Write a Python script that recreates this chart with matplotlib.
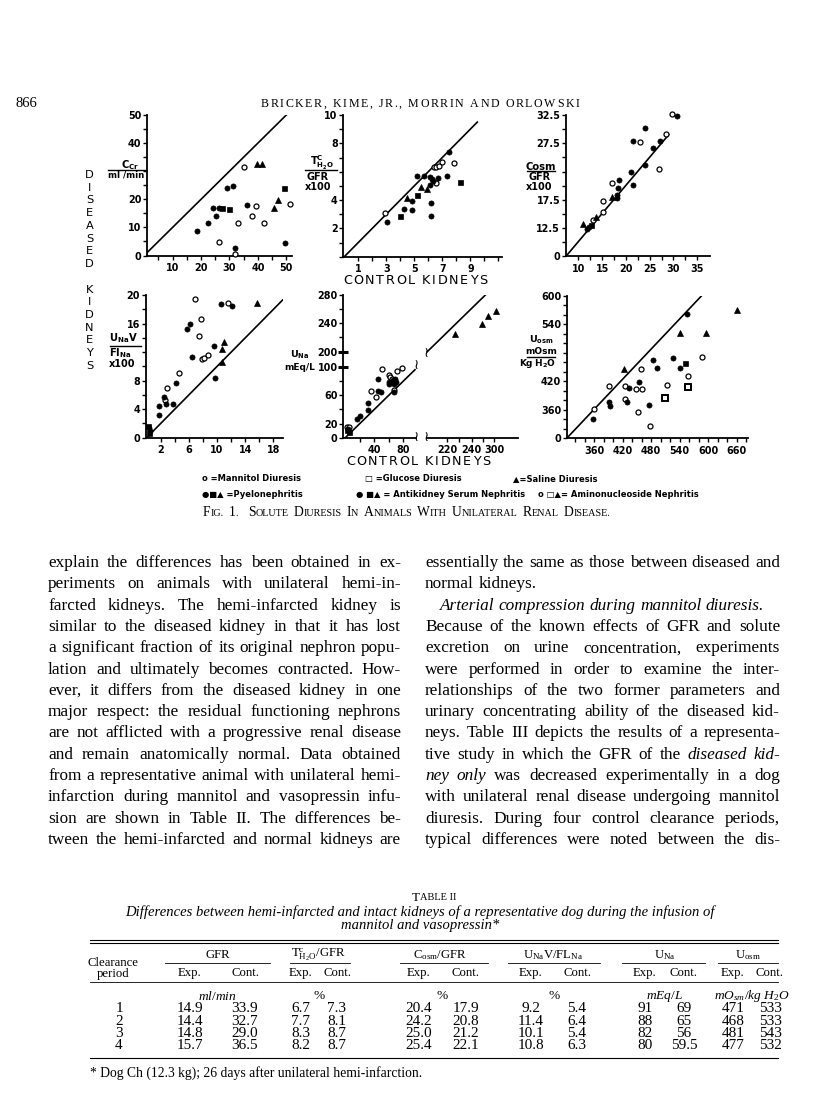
import numpy as np
import matplotlib
matplotlib.use('Agg')
import matplotlib.pyplot as plt
from matplotlib.lines import Line2D
from matplotlib.font_manager import FontProperties

plt.rcParams['mathtext.fontset'] = 'custom'
plt.rcParams['mathtext.rm'] = 'Liberation Serif'
plt.rcParams['mathtext.it'] = 'Liberation Serif:italic'
plt.rcParams['mathtext.bf'] = 'DejaVu Sans:bold'

W, H = 816, 1109
SERIF = 'Liberation Serif'
SANS = 'DejaVu Sans'

# ---------------- Fig. 1 data: (control, diseased) ----------------
# panel 1  C_Cr ml/min
p1_open = [(26.3, 4.8), (33, 11.5), (35, 31.4), (39.4, 17.6), (38.1, 14), (42, 11.5), (32.1, 0.6), (51.3, 18.2)]
p1_dot = [(18.5, 8.6), (22.4, 11.5), (24.2, 16.9), (25.1, 13.9), (26.4, 16.9), (29, 24), (31.2, 24.9),
          (36, 18.1), (32.1, 2.6), (49.6, 4.6)]
p1_sq = [(27.4, 16.9), (29.9, 16.4), (49.2, 23.9)]
p1_tri = [(39.6, 32.4), (41.4, 32.4), (45.5, 16.9), (47.2, 19.6)]

# panel 2  TcH2O/GFR x100
p2_open = [(2.9, 3.07), (6.52, 5.22), (6.4, 6.33), (6.57, 6.33), (6.76, 6.38), (7.0, 6.67), (7.81, 6.6)]
p2_dot = [(3.07, 2.48), (4.29, 3.36), (4.81, 3.31), (4.81, 3.95), (5.17, 5.67), (5.71, 5.67), (6.14, 5.62),
          (6.26, 5.46), (6.36, 5.32), (6.14, 5.08), (6.69, 5.58), (6.21, 3.81), (6.17, 2.84), (7.45, 7.42),
          (7.3, 5.67)]
p2_sq = [(4.0, 2.86), (5.17, 4.37), (8.24, 5.3)]
p2_tri = [(4.5, 4.16), (5.48, 4.89), (5.93, 4.8)]

# panel 3  Cosm/GFR x100
p3_open = [(13.15, 14.0), (15.25, 15.35), (15.1, 17.3), (17.1, 20.4), (22.96, 27.7), (28.4, 29.1),
           (26.9, 23.0), (29.7, 32.6)]
p3_dot = [(11.9, 12.3), (12.3, 12.7), (18.1, 18.4), (18.2, 17.9), (18.5, 21.0), (18.4, 19.5), (21.0, 22.5),
          (21.4, 20.1), (21.55, 27.9), (24.1, 30.2), (24.0, 23.6), (25.8, 26.6), (27.2, 27.9), (30.7, 32.4)]
p3_sq = [(12.6, 13.0)]
p3_tri = [(11.05, 13.3), (13.7, 14.5), (17.1, 18.0)]

# panel 4  UNaV/FLNa x100
p4_open = [(2.66, 5.3), (2.9, 7.0), (4.55, 9.07), (6.8, 19.5), (7.76, 16.7), (7.4, 14.3), (7.8, 11.0),
           (8.1, 11.2), (8.7, 11.6), (11.6, 18.9)]
p4_dot = [(1.7, 3.2), (1.76, 4.4), (2.47, 5.65), (2.7, 4.7), (3.75, 4.76), (4.2, 7.66), (5.7, 15.3),
          (6.15, 15.9), (6.4, 11.3), (9.6, 12.9), (9.65, 8.3), (10.6, 18.8), (12.1, 18.5), (0.4, 1.3), (0.5, 1.0)]
p4_sq = [(0.25, 1.7), (0.35, 0.6)]
p4_tri = [(10.7, 12.4), (10.98, 13.4), (10.7, 10.6), (15.6, 18.9)]

# panel 5  UNa mEq/L (broken axes)
p5_open = [(1.8, 15.6), (5.5, 15.6), (35.4, 65.5), (42.3, 57.9), (50.1, 97.1), (60.7, 88.1), (61.6, 86.2),
           (64.4, 82.9), (67.6, 67.3), (70.8, 93.8), (78.2, 98.5)]
p5_dot = [(15.6, 26.4), (20.2, 31.1), (30.8, 39.1), (30.8, 48.5), (45.1, 66.4), (49.7, 64.5), (45.1, 82.9),
          (59.8, 79.1), (59.8, 75.4), (66.2, 81.5), (67.6, 76.3), (67.6, 64.1), (69.9, 78.6), (69, 82.9),
          (3.7, 12.7)]
p5_sq = [(2.8, 10.9), (5.5, 8.5)]
p5_tri = [(238, 225), (276, 239), (284, 251), (295, 258)]

# panel 6  Uosm mOsm/kg H2O
p6_open = [(360.3, 361.8), (392.5, 410.9), (426.2, 410.2), (425.5, 383.5), (448.7, 403.9), (452.9, 354.7),
           (458.5, 446), (460.6, 403.2), (477.5, 325.3), (513.9, 413), (557.5, 431.9), (586.9, 471.2)]
p6_dot = [(357.5, 340.7), (391.2, 376.5), (393.3, 367.4), (429, 375.8), (433.3, 406), (455.7, 419.3),
          (476, 370.9), (485.2, 464.2), (492.2, 448.8), (526.6, 469.8), (541.4, 447.4), (556.1, 561.8)]
p6_sq = [(551.9, 458.6)]
p6_osq = [(509, 384.2), (558.2, 408.1)]
p6_tri = [(423.4, 445.3), (541.4, 521.1), (595.3, 521.8), (660.6, 570)]

legend_rows = [["o =Mannitol Diuresis", "\u25a1 =Glucose Diuresis", "\u25b2=Saline Diuresis"],
               ["\u25cf\u25a0\u25b2 =Pyelonephritis", "\u25cf \u25a0\u25b2 = Antikidney Serum Nephritis",
                "o \u25a1\u25b2= Aminonucleoside Nephritis"]]

# ---------------- text ----------------
left_col = [
    "explain the differences has been obtained in ex-",
    "periments on animals with unilateral hemi-in-",
    "farcted kidneys. The hemi-infarcted kidney is",
    "similar to the diseased kidney in that it has lost",
    "a significant fraction of its original nephron popu-",
    "lation and ultimately becomes contracted. How-",
    "ever, it differs from the diseased kidney in one",
    "major respect: the residual functioning nephrons",
    "are not afflicted with a progressive renal disease",
    "and remain anatomically normal. Data obtained",
    "from a representative animal with unilateral hemi-",
    "infarction during mannitol and vasopressin infu-",
    "sion are shown in Table II. The differences be-",
    "tween the hemi-infarcted and normal kidneys are",
]
right_col = [
    "essentially the same as those between diseased and",
    "normal kidneys.",
    "*Arterial* *compression* *during* *mannitol* *diuresis.*",
    "Because of the known effects of GFR and solute",
    "excretion on urine concentration, experiments",
    "were performed in order to examine the inter-",
    "relationships of the two former parameters and",
    "urinary concentrating ability of the diseased kid-",
    "neys. Table III depicts the results of a representa-",
    "tive study in which the GFR of the *diseased* *kid-*",
    "*ney* *only* was decreased experimentally in a dog",
    "with unilateral renal disease undergoing mannitol",
    "diuresis. During four control clearance periods,",
    "typical differences were noted between the dis-",
]

# ---------------- Table II ----------------
periods = ['1', '2', '3', '4']
gfr_exp = ['14.9', '14.4', '14.8', '15.7']
gfr_cont = ['33.9', '32.7', '29.0', '36.5']
tch2o_exp = ['6.7', '7.7', '8.3', '8.2']
tch2o_cont = ['7.3', '8.1', '8.7', '8.7']
cosm_exp = ['20.4', '24.2', '25.0', '25.4']
cosm_cont = ['17.9', '20.8', '21.2', '22.1']
fena_exp = ['9.2', '11.4', '10.1', '10.8']
fena_cont = ['5.4', '6.4', '5.4', '6.3']
una_exp = ['91', '88', '82', '80']
una_cont = ['69', '65', '56', '59.5']
uosm_exp = ['471', '468', '481', '477']
uosm_cont = ['533', '533', '543', '532']
groups = ['GFR', r'T$^{\mathrm{c}}_{\mathrm{H_2O}}$/GFR', r'C$_{\mathrm{osm}}$/GFR',
          r'U$_{\mathrm{Na}}$V/FL$_{\mathrm{Na}}$', r'U$_{\mathrm{Na}}$', r'U$_{\mathrm{osm}}$']
units = [r'$\mathit{ml/min}$', '%', '%', '%', r'$\mathit{mEq/L}$', r'$\mathit{mO_{sm}/kg\ H_2O}$']

fig = plt.figure(figsize=(W / 100, H / 100), dpi=100)
rend = fig.canvas.get_renderer()


def fx(x):
    return x / W


def fy(y):
    return 1 - y / H


def tw(s, size, family=SERIF, style='normal', weight='normal'):
    fp = FontProperties(family=family, size=size, style=style, weight=weight)
    return rend.get_text_width_height_descent(s, fp, ismath=False)[0]


def adv(s, size, **kw):
    return tw('H' + s + 'H', size, **kw) - tw('HH', size, **kw)


def put(x, y, s, **kw):
    kw.setdefault('family', SERIF)
    return fig.text(fx(x), fy(y), s, **kw)


def hline(x0, x1, y, lw=0.8):
    fig.add_artist(Line2D([fx(x0), fx(x1)], [fy(y), fy(y)], transform=fig.transFigure, color='k', lw=lw))


def tracked(x, y, s, size, track, ha='left', **kw):
    ws = [adv(c, size, **kw) for c in s]
    total = sum(ws) + track * (len(s) - 1)
    xx = x - total / 2 if ha == 'center' else x
    for c, w in zip(s, ws):
        if c != ' ':
            put(xx, y, c, fontsize=size, va='baseline', **kw)
        xx += w + track


def justify(x0, x1, y, line, size, last=False, indent=0):
    items = []
    for w in line.split(' '):
        st = 'italic' if w.startswith('*') else 'normal'
        items.append((w.strip('*'), st))
    ws = [adv(w, size, style=st) for w, st in items]
    if last:
        gap = adv(' ', size)
    else:
        gap = max((x1 - x0 - indent - sum(ws)) / (len(items) - 1), 2.5)
    xx = x0 + indent
    for (w, st), wd in zip(items, ws):
        put(xx, y, w, fontsize=size, style=st, va='baseline')
        xx += wd + gap


# ---------------- running head ----------------
put(15, 107, '866', fontsize=10.5, va='baseline')
tracked(420, 107, 'BRICKER, KIME, JR., MORRIN AND ORLOWSKI', 8.6, 1.6, ha='center')

# ---------------- panels ----------------
STY = {
    'open': dict(marker='o', mfc='white', mec='k', mew=0.9, ms=3.6),
    'dot': dict(marker='o', mfc='k', mec='k', mew=0.5, ms=3.7),
    'sq': dict(marker='s', mfc='k', mec='k', mew=0.5, ms=3.6),
    'osq': dict(marker='s', mfc='white', mec='k', mew=1.4, ms=4.0),
    'tri': dict(marker='^', mfc='k', mec='k', mew=0.5, ms=4.4),
}


def pts(ax, data, kind, tx=None, ty=None):
    x, y = np.array(data, dtype=float).T
    if tx is not None:
        x = tx(x)
        y = ty(y)
    ax.plot(x, y, ls='none', clip_on=False, zorder=3, **STY[kind])


def panel(l, t, r, b, xlim, ylim, xt, xtl, yt, ytl):
    ax = fig.add_axes([l / W, 1 - b / H, (r - l) / W, (b - t) / H])
    ax.set_xlim(xlim)
    ax.set_ylim(ylim)
    ax.patch.set_alpha(0)
    for s in ('top', 'right'):
        ax.spines[s].set_visible(False)
    for s in ('left', 'bottom'):
        ax.spines[s].set_linewidth(1.3)
    ax.set_xticks(xt)
    ax.set_xticklabels(xtl)
    ax.set_yticks(yt)
    ax.set_yticklabels(ytl)
    ax.tick_params(direction='out', length=3.0, width=1.0, labelsize=6.9, pad=1.0)
    ax.tick_params(axis='x', pad=2.4)
    for lab in ax.get_xticklabels() + ax.get_yticklabels():
        lab.set_fontweight('bold')
        lab.set_family(SANS)
    return ax


def lab(v, keep):
    return [('%g' % x if x in keep else '') for x in v]


def sans(x, y, s, size=6.8, ha='center'):
    fig.text(fx(x), fy(y), s, family=SANS, weight='bold', fontsize=size, ha=ha, va='center')


def bar(x0, x1, y):
    hline(x0, x1, y, lw=1.0)


# panel 1
xt = np.arange(5, 55, 5)
yt = np.arange(0, 55, 5)
ax1 = panel(147, 115, 292, 255.5, (1, 52), (0, 50), xt, lab(xt, [10, 20, 30, 40, 50]),
            yt, lab(yt, [0, 10, 20, 40, 50]))
ax1.plot([0, 51], [0, 51], color='k', lw=1.2)
for d, k in ((p1_open, 'open'), (p1_dot, 'dot'), (p1_sq, 'sq'), (p1_tri, 'tri')):
    pts(ax1, d, k)
sans(130, 165, r'$\mathbf{C_{Cr}}$', 7.2)
bar(108, 145, 170)
sans(126.5, 175, 'ml /min', 6.2)

# panel 2
xt = np.arange(1, 12, 1)
yt = np.arange(0, 11, 1)
ax2 = panel(343.3, 115, 501.7, 256.7, (-0.07, 11.24), (0, 10), xt, lab(xt, [1, 3, 5, 7, 9]),
            yt, lab(yt, [2, 4, 8, 10]))
ax2.plot([0, 9.5], [0, 9.5], color='k', lw=1.2)
for d, k in ((p2_open, 'open'), (p2_dot, 'dot'), (p2_sq, 'sq'), (p2_tri, 'tri')):
    pts(ax2, d, k)
sans(322, 163, r'$\mathbf{T^{C}_{H_2O}}$', 7.2)
bar(305, 337, 170)
sans(318, 177, 'GFR', 7.0)
sans(318, 187.5, 'x100', 7.0)
tracked(415, 284, 'CONTROL KIDNEYS', 9.2, 1.6, ha='center', family=SANS)

# panel 3
xt = np.arange(10, 37.5, 2.5)
yt = np.arange(7.5, 35, 2.5)
ax3 = panel(565.7, 115, 710, 256.3, (7.35, 37.7), (7.55, 32.5), xt, lab(xt, [10, 15, 20, 25, 30, 35]),
            yt, ['0' if v == 7.5 else ('%g' % v if v in (12.5, 17.5, 27.5, 32.5) else '') for v in yt])
ax3.plot([7.45, 29], [7.55, 29], color='k', lw=1.2)
for d, k in ((p3_open, 'open'), (p3_dot, 'dot'), (p3_sq, 'sq'), (p3_tri, 'tri')):
    pts(ax3, d, k)
sans(541, 166.5, 'Cosm', 7.2)
bar(526.5, 555, 171)
sans(540, 177.5, 'GFR', 7.0)
sans(539, 187, 'x100', 7.0)

# panel 4
xt = np.arange(2, 20, 2)
yt = np.arange(0, 22, 2)
ax4 = panel(145.7, 295, 283, 437.7, (-0.13, 19.35), (0, 20), xt, lab(xt, [2, 6, 10, 14, 18]),
            yt, lab(yt, [0, 4, 8, 16, 20]))
ax4.plot([0, 19.3], [0, 19.3], color='k', lw=1.2)
for d, k in ((p4_open, 'open'), (p4_dot, 'dot'), (p4_sq, 'sq'), (p4_tri, 'tri')):
    pts(ax4, d, k)
sans(123, 338, r'$\mathbf{U_{Na}V}$', 7.2)
bar(110, 141, 345.5)
sans(120, 353, r'$\mathbf{FI_{Na}}$', 7.2)
sans(122, 364, 'x100', 7.0)


# panel 5, broken axes: values above the gap are shifted down
def brk_x(v):
    v = np.asarray(v, dtype=float)
    return np.where(v > 150, v - 87, v)


def brk_y(v):
    v = np.asarray(v, dtype=float)
    return np.where(v > 150, v - 78.5, v)


yt5 = [0, 20, 40, 60, 80, 100, 200, 220, 240, 260, 280]
ytl5 = ['0', '20', '', '60', '', '100', '200', '', '240', '', '280']
xt5 = [20, 40, 60, 80, 140, 157, 174.3, 190, 205]
xtl5 = ['', '40', '', '80', '220', '', '240', '', '300']
ax5 = panel(343.3, 295, 518, 437.7, (-2.8, 238), (0, 201.5), xt5, xtl5, brk_y(yt5), ytl5)
ax5.spines['bottom'].set_bounds(-2.8, 97)
ax5.plot([113, 238], [0, 0], color='k', lw=1.3, clip_on=False)
ax5.plot([0, 96], [0, 96], color='k', lw=1.2)
ax5.plot(brk_x([200, 280]), brk_y([200, 280]), color='k', lw=1.2)
ax5.plot([-2.8, -2.8], brk_y([100, 200]), ls='none', marker='_', ms=7, mew=2.2, color='k', clip_on=False)
for xx, yy in ((97, 1), (112, 1), (97, 102), (111, 119)):
    ax5.text(xx, yy, '\u2240', fontsize=10, ha='center', va='center', family=SANS)
for d, k in ((p5_open, 'open'), (p5_dot, 'dot'), (p5_sq, 'sq'), (p5_tri, 'tri')):
    pts(ax5, d, k, brk_x, brk_y)
sans(300, 355, r'$\mathbf{U_{Na}}$', 6.8)
sans(300, 367.5, 'mEq/L', 6.5)
tracked(418, 465, 'CONTROL KIDNEYS', 9.2, 1.6, ha='center', family=SANS)

# panel 6
xt = np.arange(320, 690, 20)
yt = np.arange(300, 620, 20)
ax6 = panel(566.7, 296, 748, 438.3, (302.5, 684.2), (300, 600), xt, lab(xt, [360, 420, 480, 540, 600, 660]),
            yt, ['0' if v == 300 else ('%g' % v if v in (360, 420, 540, 600) else '') for v in yt])
ax6.plot([302.5, 586], [300, 600], color='k', lw=1.2)
for d, k in ((p6_open, 'open'), (p6_dot, 'dot'), (p6_sq, 'sq'), (p6_osq, 'osq'), (p6_tri, 'tri')):
    pts(ax6, d, k)
sans(541, 340, r'$\mathbf{U_{osm}}$', 6.8)
sans(541, 351.5, 'mOsm', 6.5)
bar(526.5, 555, 356.5)
sans(538, 363, r'$\mathbf{Kg\ H_2O}$', 6.5)

# DISEASED KIDNEYS stacked letters
for i, c in enumerate('DISEASED KIDNEYS'):
    if c != ' ':
        fig.text(fx(89.5), fy(175 + i * 12.73), c, family=SANS, fontsize=8.2, ha='center', va='center')

# legend
for row, y, xs in ((legend_rows[0], 478.5, (201.5, 365, 513)), (legend_rows[1], 494.5, (201.5, 356.5, 538))):
    for s, x in zip(row, xs):
        fig.text(fx(x), fy(y), s, family=SANS, weight='bold', fontsize=6.0, va='center')

# caption in small caps
cap_x = 203
for word in 'FIG. 1.  SOLUTE DIURESIS IN ANIMALS WITH UNILATERAL RENAL DISEASE.'.split(' '):
    if word == '':
        cap_x += 5
        continue
    put(cap_x, 516, word[0], fontsize=9.8, va='baseline')
    cap_x += adv(word[0], 9.8)
    if len(word) > 1:
        put(cap_x, 516, word[1:], fontsize=7.3, va='baseline')
        cap_x += adv(word[1:], 7.3)
    cap_x += 5.0

# ---------------- body text ----------------
body_size = 12.4
for i, line in enumerate(left_col):
    justify(48, 401, 567 + i * 21.3, line, body_size)
for i, line in enumerate(right_col):
    justify(425, 780, 567 + i * 21.3, line, body_size, last=(i in (1, 2)), indent=(15 if i == 2 else 0))

# ---------------- Table II ----------------
put(420, 898, 'T', fontsize=9.4, ha='right', va='center')
put(420, 898, 'ABLE II', fontsize=7.5, ha='left', va='center')
put(420, 912, 'Differences between hemi-infarcted and intact kidneys of a representative dog during the infusion of',
    fontsize=10.5, style='italic', ha='center', va='center')
put(420, 926, 'mannitol and vasopressin*', fontsize=10.5, style='italic', ha='center', va='center')
hline(90, 778, 940, 0.8)
hline(90, 778, 943, 0.8)

grp_x = [218, 318, 440, 553, 665, 748]
grp_span = [(165, 270), (290, 350), (400, 488), (508, 600), (622, 705), (718, 778)]
col_x = [(190, 245), (301, 337), (419, 466), (531, 577), (645, 684), (733, 770)]
cols = [(gfr_exp, gfr_cont), (tch2o_exp, tch2o_cont), (cosm_exp, cosm_cont),
        (fena_exp, fena_cont), (una_exp, una_cont), (uosm_exp, uosm_cont)]
put(113, 963, 'Clearance', fontsize=9.2, ha='center', va='center')
put(113, 974, 'period', fontsize=9.2, ha='center', va='center')
for g, gx, (s0, s1), (cx0, cx1), u in zip(groups, grp_x, grp_span, col_x, units):
    put(gx, 955, g, fontsize=9.2, ha='center', va='center')
    hline(s0, s1, 963, 0.6)
    put(cx0, 973, 'Exp.', fontsize=9.2, ha='center', va='center')
    put(cx1, 973, 'Cont.', fontsize=9.2, ha='center', va='center')
    put((cx0 + cx1) / 2, 996, u, fontsize=9.6, ha='center', va='center')
hline(90, 778, 982, 0.6)
for i, p in enumerate(periods):
    y = 1009 + i * 12.2
    put(119, y, p, fontsize=11, ha='center', va='center')
    for (ce, cc), (cx0, cx1) in zip(cols, col_x):
        put(cx0, y, ce[i], fontsize=11, ha='center', va='center')
        put(cx1, y, cc[i], fontsize=11, ha='center', va='center')
hline(90, 778, 1058, 0.8)
put(90, 1073, '* Dog Ch (12.3 kg); 26 days after unilateral hemi-infarction.', fontsize=9.8, va='center')

fig.savefig('out.png', dpi=100)
